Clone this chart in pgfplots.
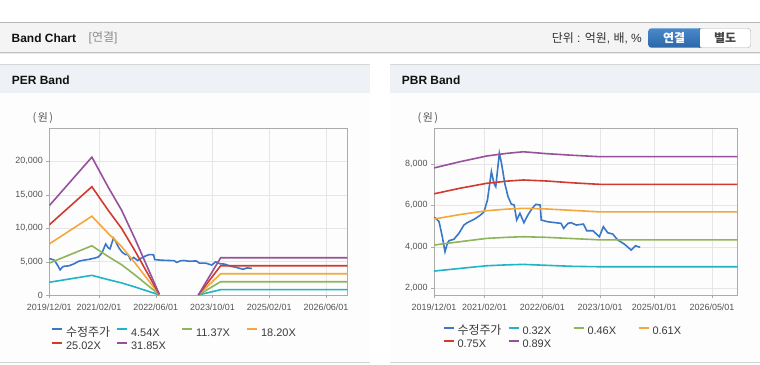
\documentclass[border=0pt]{standalone}
\usepackage{fontspec}
\setmainfont{Liberation Sans}
\newfontfamily\kr{Noto Sans CJK KR}
\usepackage{pgfplots}
\pgfplotsset{compat=1.18}
\definecolor{cStock}{HTML}{3A77C7}
\definecolor{cCyan}{HTML}{1FB4C6}
\definecolor{cGreen}{HTML}{8DB65A}
\definecolor{cOrange}{HTML}{F4A73B}
\definecolor{cRed}{HTML}{D13B2F}
\definecolor{cPurple}{HTML}{97519C}
\definecolor{hdrbar}{HTML}{F4F4F4}
\definecolor{panelhdr}{HTML}{EEF2F7}
\definecolor{framec}{HTML}{ABABAB}
\definecolor{gridc}{HTML}{E6E6E6}
\definecolor{tickc}{HTML}{555555}
\definecolor{legc}{HTML}{3A3A3A}
\definecolor{btnTop}{HTML}{4A89C9}
\definecolor{btnBot}{HTML}{2B67A9}
\newcommand{\krl}[1]{{\fontsize{12}{12}\selectfont\kr #1}}
\pgfplotsset{
  bandaxis/.style={
    scale only axis, anchor=south west,
    xmin=0, xmax=84,
    scaled y ticks=false,
    axis line style={framec},
    major tick style={framec},
    tick align=outside, major tick length=3bp, tick pos=left,
    grid=major, grid style={gridc, line width=0.6bp},
    tick label style={font=\fontsize{9}{10}\selectfont, text=tickc},
    xticklabel style={yshift=-2.5bp},
    no markers,
    every axis plot/.append style={line width=1.6bp},
    unbounded coords=jump,
    legend columns=4,
    legend cell align=left,
    legend style={draw=none, fill=none, inner sep=0pt, outer sep=0pt,
      font=\fontsize{11}{12}\selectfont, text=legc,
      nodes={inner sep=0pt, text height=8bp, text depth=2.5bp},
      row sep=2.8bp, column sep=0pt},
    legend image code/.code={\draw[##1, line width=2bp] (0bp,4bp) -- (10bp,4bp);},
  }
}
\begin{document}
\begin{tikzpicture}[x=1bp,y=1bp]
\useasboundingbox (0,0) rectangle (760,364);
\fill[white] (0,0) rectangle (760,364);
% top bar
\fill[hdrbar] (0,311.7) rectangle (760,341.2);
\draw[color={rgb,255:red,184;green,184;blue,184}, line width=1bp] (0,341.7) -- (760,341.7);
\draw[color={rgb,255:red,196;green,196;blue,196}, line width=1bp] (0,311.5) -- (760,311.5);
\draw[color={rgb,255:red,232;green,232;blue,232}, line width=1bp] (0,310.5) -- (760,310.5);
\node[anchor=west, inner sep=0pt, font=\fontsize{12}{14}\selectfont\bfseries, text={rgb,255:red,17;green,17;blue,17}] at (11.5,326) {Band Chart};
\node[anchor=west, inner sep=0pt, font=\fontsize{12}{14}\selectfont, text={rgb,255:red,140;green,140;blue,140}] at (88.5,326) {[{\kr 연결}]};
\node[anchor=east, inner sep=0pt, font=\fontsize{12}{14}\selectfont, text={rgb,255:red,51;green,51;blue,51}] at (642,326) {{\kr 단위} : {\kr 억원}, {\kr 배}, \%};
% buttons
\shade[top color=btnTop, bottom color=btnBot, rounded corners=3bp] (648.3,316.3) rectangle (703,335.7);
\draw[color={rgb,255:red,176;green,176;blue,176}, fill=white, rounded corners=3bp] (699.3,316.3) -- (750.7,316.3) -- (750.7,335.7) -- (699.3,335.7) -- cycle;
\shade[top color=btnTop, bottom color=btnBot] (699,316.3) rectangle (699.8,335.7);
\node[inner sep=0pt, font=\fontsize{12}{14}\selectfont\kr\bfseries, text=white] at (674,326) {연결};
\node[inner sep=0pt, font=\fontsize{12}{14}\selectfont\kr\bfseries, text={rgb,255:red,70;green,70;blue,70}] at (725,326) {별도};
% panels
\foreach \px/\qx in {0/370,390/760}{
  \fill[color={rgb,255:red,253;green,253;blue,253}] (\px,1.3) rectangle (\qx,271.3);
  \fill[panelhdr] (\px,271.3) rectangle (\qx,299.8);
  \draw[color={rgb,255:red,214;green,214;blue,214}, line width=1bp] (\px,300) -- (\qx,300);
  \draw[color={rgb,255:red,214;green,214;blue,214}, line width=1bp] (\px,1.3) -- (\qx,1.3);
}
\node[anchor=west, inner sep=0pt, font=\fontsize{12}{14}\selectfont\bfseries, text={rgb,255:red,17;green,17;blue,17}] at (11.7,284) {PER Band};
\node[anchor=west, inner sep=0pt, font=\fontsize{12}{14}\selectfont\bfseries, text={rgb,255:red,17;green,17;blue,17}] at (401.7,284) {PBR Band};
\node[anchor=west, inner sep=0pt, font=\fontsize{11}{12}\selectfont\kr, text=tickc] at (32.5,246) {(\hspace{1.5bp}원\hspace{1.5bp})};
\node[anchor=west, inner sep=0pt, font=\fontsize{11}{12}\selectfont\kr, text=tickc] at (417.5,246) {(\hspace{1.5bp}원\hspace{1.5bp})};

% ---------------- PER band
\begin{axis}[bandaxis, at={(49.3bp,69bp)}, width=298bp, height=167bp,
  ymin=0, ymax=25000,
  xtick={0,14,30,46,62,78},
  xticklabels={2019/12/01,2021/02/01,2022/06/01,2023/10/01,2025/02/01,2026/06/01},
  ytick={0,5000,10000,15000,20000},
  yticklabels={0,{5,000},{10,000},{15,000},{20,000}},
  legend style={at={(axis description cs:0.006,-0.199)}, anchor=north west}]
\addplot[cStock] coordinates {(0,5424) (0.5,5379) (1.4,5215) (2.3,4491) (3.05,3767) (3.7,4172) (4.15,4299) (5.5,4365) (6.9,4655) (8.3,5055) (9.2,5167) (11.1,5330) (12.9,5538) (13.85,5698) (14.8,6262) (15.9,7630) (16.6,7068) (17.1,6904) (17.5,7551) (18.1,8516) (18.7,8032) (19.6,7068) (20.5,6422) (21.4,6069) (22.2,6021) (22.9,5297) (23.8,5618) (24.9,5167) (26.0,5538) (27.2,5860) (28.2,6053) (29.4,6021) (29.7,5297) (31.4,5215) (33.0,5180) (35.2,5135) (35.9,4892) (37.1,5135) (38.0,5165) (39.4,5054) (41.4,5100) (42.3,4780) (44.0,4780) (45.8,4489) (46.9,4973) (48.1,4683) (49.5,4620) (50.9,4330) (52.7,4136) (54.6,3846) (55.8,4055) (57.1,3975)};
\addlegendentry{\hspace*{3bp}\makebox[50bp][l]{\krl{수정주가}}}
\addplot[cCyan] coordinates {(0,1907) (12,2942) (16.6,2302) (20.4,1807) (24.1,1208) (31,18) (36,nan) (42,0) (48.3,795) (84,795)};
\addlegendentry{\hspace*{3bp}\makebox[50bp][l]{4.54X}}
\addplot[cGreen] coordinates {(0,4775) (12,7368) (16.6,5765) (20.4,4525) (24.1,3024) (31,45) (36,nan) (42,0) (48.3,1990) (84,1990)};
\addlegendentry{\hspace*{3bp}\makebox[50bp][l]{11.37X}}
\addplot[cOrange] coordinates {(0,7644) (12,11794) (16.6,9227) (20.4,7244) (24.1,4841) (31,73) (36,nan) (42,0) (48.3,3185) (84,3185)};
\addlegendentry{\hspace*{3bp}\makebox[50bp][l]{18.20X}}
\addplot[cRed] coordinates {(0,10508) (12,16213) (16.6,12685) (20.4,9958) (24.1,6655) (31,100) (36,nan) (42,0) (48.3,4379) (84,4379)};
\addlegendentry{\hspace*{3bp}\makebox[50bp][l]{25.02X}}
\addplot[cPurple] coordinates {(0,13377) (12,20639) (16.6,16148) (20.4,12676) (24.1,8472) (31,127) (36,nan) (42,0) (48.3,5574) (84,5574)};
\addlegendentry{\hspace*{3bp}\makebox[50bp][l]{31.85X}}
\end{axis}

% ---------------- PBR band
\begin{axis}[bandaxis, at={(434bp,69bp)}, width=303.3bp, height=166.7bp,
  ymin=1677, ymax=9723,
  xtick={0,14,30,46,61,77},
  xticklabels={2019/12/01,2021/02/01,2022/06/01,2023/10/01,2025/01/01,2026/05/01},
  ytick={2000,4000,6000,8000},
  yticklabels={{2,000},{4,000},{6,000},{8,000}},
  legend style={at={(axis description cs:0.028,-0.188)}, anchor=north west}]
\addplot[cStock] coordinates {(0,5424) (0.5,5379) (1.4,5215) (2.3,4491) (3.05,3767) (3.7,4172) (4.15,4299) (5.5,4365) (6.9,4655) (8.3,5055) (9.2,5167) (11.1,5330) (12.9,5538) (13.85,5698) (14.8,6262) (15.9,7630) (16.6,7068) (17.1,6904) (17.5,7551) (18.1,8516) (18.7,8032) (19.6,7068) (20.5,6422) (21.4,6069) (22.2,6021) (22.9,5297) (23.8,5618) (24.9,5167) (26.0,5538) (27.2,5860) (28.2,6053) (29.4,6021) (29.7,5297) (31.4,5215) (33.0,5180) (35.2,5135) (35.9,4892) (37.1,5135) (38.0,5165) (39.4,5054) (41.4,5100) (42.3,4780) (44.0,4780) (45.8,4489) (46.9,4973) (48.1,4683) (49.5,4620) (50.9,4330) (52.7,4136) (54.6,3846) (55.8,4055) (57.1,3975)};
\addlegendentry{\hspace*{3bp}\makebox[50bp][l]{\krl{수정주가}}}
\addplot[cCyan] coordinates {(0,2832) (7.2,2960) (14.6,3089) (20,3130) (24.7,3154) (31.1,3110) (38.5,3060) (45.8,3041) (84,3041)};
\addlegendentry{\hspace*{3bp}\makebox[50bp][l]{0.32X}}
\addplot[cGreen] coordinates {(0,4088) (7.2,4250) (14.6,4410) (20,4460) (24.7,4490) (31.1,4460) (38.5,4400) (45.8,4340) (84,4340)};
\addlegendentry{\hspace*{3bp}\makebox[50bp][l]{0.46X}}
\addplot[cOrange] coordinates {(0,5343) (7.2,5560) (14.6,5744) (20,5820) (24.7,5860) (31.1,5830) (38.5,5760) (45.8,5690) (84,5690)};
\addlegendentry{\hspace*{3bp}\makebox[50bp][l]{0.61X}}
\addplot[cRed] coordinates {(0,6560) (7.2,6830) (14.6,7068) (20,7170) (24.7,7228) (31.1,7180) (38.5,7090) (45.8,7019) (84,7019)};
\addlegendentry{\hspace*{3bp}\makebox[50bp][l]{0.75X}}
\addplot[cPurple] coordinates {(0,7810) (7.2,8110) (14.6,8386) (20,8510) (24.7,8590) (31.1,8500) (38.5,8420) (45.8,8354) (84,8354)};
\addlegendentry{\hspace*{3bp}\makebox[50bp][l]{0.89X}}
\end{axis}
\end{tikzpicture}
\end{document}
